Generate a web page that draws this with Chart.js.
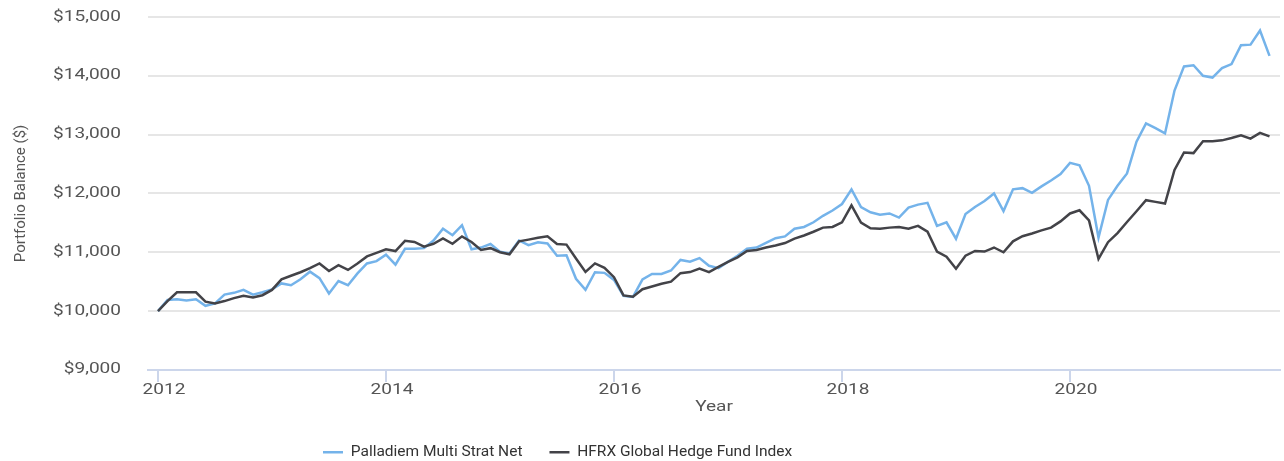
<!DOCTYPE html>
<html>
<head>
<meta charset="utf-8">
<script src="https://cdn.jsdelivr.net/npm/chart.js@4"></script>
<style>
  html, body { margin: 0; padding: 0; background: #fff; }
  #wrap { width: 1284px; height: 461px; }
</style>
</head>
<body>
<div id="wrap"><canvas id="growthChart"></canvas></div>
<script>
// month-end values, Jan 2012 .. Oct 2021
const palladiem = [
    10000, 10190, 10200, 10180, 10200, 10090, 10130, 10280, 10310, 10360, 10280, 10320,
    10370, 10470, 10440, 10540, 10670, 10560, 10300, 10510, 10440, 10640, 10810, 10850,
    10960, 10790, 11060, 11060, 11070, 11200, 11400, 11290, 11460, 11050, 11080, 11140,
    11010, 10980, 11200, 11120, 11170, 11150, 10940, 10950, 10550, 10360, 10660, 10650,
    10530, 10260, 10240, 10540, 10630, 10630, 10690, 10870, 10840, 10900, 10770, 10730,
    10840, 10940, 11060, 11080, 11160, 11240, 11270, 11400, 11430, 11510, 11620, 11710,
    11820, 12070, 11770, 11680, 11640, 11660, 11590, 11760, 11810, 11840, 11450, 11510,
    11230, 11650, 11770, 11870, 12000, 11700, 12070, 12090, 12010, 12120, 12220, 12330,
    12520, 12480, 12130, 11250, 11890, 12130, 12340, 12880, 13190, 13110, 13020, 13750,
    14160, 14180, 14000, 13970, 14130, 14200, 14520, 14530, 14770, 14340
];
const hfrx = [
    10000, 10170, 10320, 10320, 10320, 10160, 10130, 10170, 10220, 10260, 10230, 10270,
    10360, 10540, 10600, 10660, 10730, 10810, 10680, 10780, 10700, 10810, 10930, 10990,
    11050, 11020, 11195, 11175, 11095, 11145, 11235, 11145, 11270, 11175, 11040, 11070,
    11000, 10965, 11185, 11215, 11245, 11270, 11140, 11130, 10895, 10665, 10810, 10735,
    10576, 10267, 10244, 10372, 10419, 10465, 10500, 10645, 10663, 10721, 10663, 10750,
    10837, 10913, 11023, 11040, 11081, 11116, 11157, 11233, 11285, 11349, 11419, 11430,
    11510, 11797, 11506, 11407, 11401, 11419, 11430, 11401, 11448, 11349, 11012, 10924,
    10721, 10942, 11023, 11012, 11081, 11000, 11186, 11273, 11320, 11372, 11419, 11525,
    11660, 11714, 11543, 10886, 11171, 11326, 11514, 11697, 11886, 11857, 11829, 12400,
    12697, 12686, 12886, 12886, 12903, 12943, 12989, 12931, 13029, 12971
];
const yearTicks = [2012, 2014, 2016, 2018, 2020];
const balanceTicks = [9000, 10000, 11000, 12000, 13000, 14000, 15000];

// x position of each month as a decimal year
let months = [];
for (let i = 0; i < palladiem.length; i++) {
    months[i] = 2012 + i / 12;
}

const canvas = document.querySelector('#growthChart');
const ctx = canvas.getContext('2d');

// the axis text in the original is drawn wide; stretch 14px horizontal text
const WIDE = 1.36;
const baseFill = ctx.fillText;
const baseMeasure = ctx.measureText;
function stretchOf(c) {
    const m = c.getTransform();
    return (m.b === 0 && c.font.indexOf('14px') !== -1) ? WIDE : 1;
}
ctx.fillText = function (text, x, y, maxWidth) {
    const s = stretchOf(this);
    if (s === 1) {
        return baseFill.call(this, text, x, y);
    }
    this.save();
    this.translate(x, y);
    this.scale(s, 1);
    baseFill.call(this, text, 0, 0);
    this.restore();
};
ctx.measureText = function (text) {
    const m = baseMeasure.call(this, text);
    const s = stretchOf(this);
    if (s === 1) return m;
    return { width: m.width * s, actualBoundingBoxAscent: m.actualBoundingBoxAscent, actualBoundingBoxDescent: m.actualBoundingBoxDescent };
};

const axisFont = { family: 'Roboto', size: 14 };

// legend in the original sits left of centre
const legendShift = {
    id: 'legendShift',
    beforeDraw(chart) {
        chart.legend.left = 296;
    }
};

new Chart(canvas, {
    type: 'line',
    data: {
        labels: months,
        datasets: [
            {
                label: 'Palladiem Multi Strat Net',
                data: palladiem,
                borderColor: '#74b3ea',
                backgroundColor: '#74b3ea',
                borderWidth: 2.5,
                pointRadius: 0,
                tension: 0,
                order: 1
            },
            {
                label: 'HFRX Global Hedge Fund Index',
                data: hfrx,
                borderColor: '#434348',
                backgroundColor: '#434348',
                borderWidth: 2.5,
                pointRadius: 0,
                tension: 0,
                order: 0
            }
        ]
    },
    plugins: [legendShift],
    options: {
        responsive: true,
        maintainAspectRatio: false,
        animation: false,
        layout: { padding: { top: 17, right: 4, left: 0, bottom: -9 } },
        plugins: {
            tooltip: { enabled: false },
            legend: {
                position: 'bottom',
                align: 'start',
                labels: {
                    usePointStyle: true,
                    pointStyle: 'line',
                    pointStyleWidth: 20,
                    color: '#333333',
                    font: { family: 'Roboto', size: 15.5 },
                    padding: 27,
                    sort: (a, b) => a.datasetIndex - b.datasetIndex
                }
            }
        },
        scales: {
            x: {
                type: 'linear',
                min: 2012 - 1.05 / 12,
                max: 2021.842,
                afterBuildTicks: (scale) => {
                    scale.ticks = yearTicks.map(v => ({ value: v }));
                },
                ticks: {
                    color: '#555555',
                    font: axisFont,
                    padding: 0,
                    labelOffset: 6,
                    maxRotation: 0,
                    callback: (v) => String(v)
                },
                grid: {
                    drawOnChartArea: false,
                    color: '#ccd6eb',
                    lineWidth: 2,
                    tickLength: 12
                },
                border: { color: '#ccd6eb', width: 2 },
                title: {
                    display: true,
                    text: 'Year',
                    color: '#555555',
                    font: axisFont,
                    padding: { top: 0, bottom: 2 }
                }
            },
            y: {
                min: 9000,
                max: 15000,
                afterBuildTicks: (scale) => {
                    scale.ticks = balanceTicks.map(v => ({ value: v }));
                },
                afterFit: (scale) => {
                    scale.width = 148;
                    scale.paddingTop = 0;
                    scale.paddingBottom = 0;
                },
                ticks: {
                    color: '#555555',
                    font: axisFont,
                    padding: 27,
                    callback: (v) => '$' + v.toLocaleString('en-US')
                },
                grid: {
                    color: '#e6e6e6',
                    lineWidth: 2,
                    drawTicks: false
                },
                border: { display: false },
                title: {
                    display: true,
                    text: 'Portfolio Balance ($)',
                    color: '#555555',
                    font: { family: 'Roboto', size: 15 },
                    padding: { top: 12, bottom: 0 }
                }
            }
        }
    }
});
</script>
</body>
</html>
